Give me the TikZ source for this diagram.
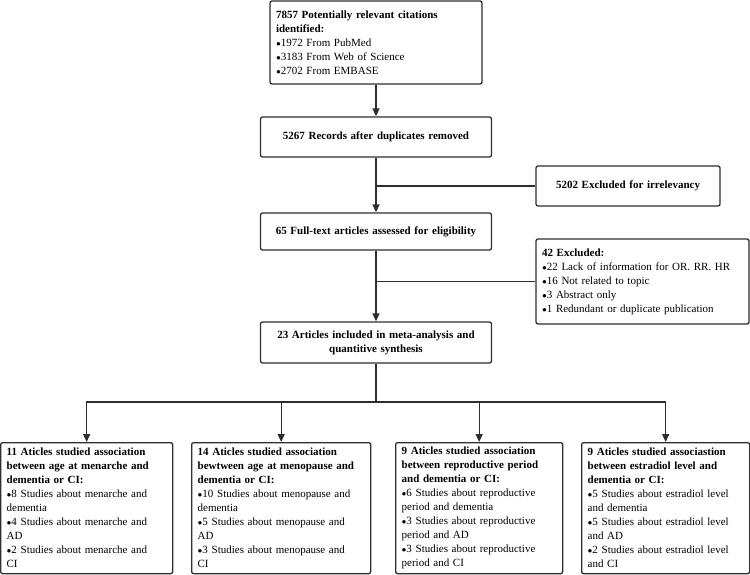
\documentclass[tikz,border=0pt]{standalone}
\usepackage{fontspec}
\setmainfont{Liberation Serif}
\usepackage{xcolor}
\usetikzlibrary{arrows.meta,positioning,calc}

\definecolor{edgegray}{HTML}{2E2E2E}
\newcommand{\dotitem}{{\fontsize{8}{14}\selectfont ●}}

\begin{document}
\begin{tikzpicture}[
    x=1pt, y=-1pt,
    box/.style={rectangle, draw=edgegray, line width=1.3pt, rounded corners=2pt, inner xsep=6pt, inner ysep=0pt, font=\fontsize{11}{14}\selectfont},
    mainbox/.style={box, text width=219pt, align=center},
    listbox/.style={box, align=left, anchor=north west, minimum height=131pt},
    arrow/.style={-{Stealth[length=8pt, width=7pt, inset=0pt]}, line width=1.3pt, draw=edgegray},
    line/.style={line width=1.3pt, draw=edgegray}
]
    \useasboundingbox (0,0) rectangle (750,575);

    % main column
    \node[box, text width=200pt, align=left, minimum height=83pt] (found) at (376,42.5)
        {\textbf{7857 Potentially relevant citations}\\\textbf{identified:}\\\dotitem1972 From PubMed\\\dotitem3183 From Web of Science\\\dotitem2702 From EMBASE};

    \node[mainbox, minimum height=40pt] (dedup) at (376,137) {\textbf{5267 Records after duplicates removed}};

    \node[mainbox, minimum height=37pt] (fulltext) at (376,231.5) {\textbf{65 Full-text articles assessed for eligibility}};

    \node[mainbox, minimum height=41pt] (included) at (376,342.5) {\textbf{23 Articles included in meta-analysis and}\\\textbf{quantitive synthesis}};

    % exclusions
    \node[box, text width=172pt, align=center, minimum height=40pt] (irrel) at (628,186) {\textbf{5202 Excluded for irrelevancy}};

    \node[box, text width=201pt, align=left, minimum height=85pt] (excl) at (642.5,281.5)
        {\textbf{42 Excluded:}\\\dotitem22 Lack of information for OR. RR. HR\\\dotitem16 Not related to topic\\\dotitem3 Abstract only\\\dotitem1 Redundant or duplicate publication};

    % four groups
    \node[listbox, text width=160pt] (menarche) at (0,442)
        {\textbf{11 Aticles studied association}\\\textbf{between age at menarche and}\\\textbf{dementia or CI:}\\\dotitem8 Studies about menarche and\\dementia\\\dotitem4 Studies about menarche and\\AD\\\dotitem2 Studies about menarche and\\CI};

    \node[listbox, text width=167pt] (menopause) at (191,442)
        {\textbf{14 Aticles studied association}\\\textbf{bewtween age at menopause and}\\\textbf{dementia or CI:}\\\dotitem10 Studies about menopause and\\dementia\\\dotitem5 Studies about menopause and\\AD\\\dotitem3 Studies about menopause and\\CI};

    \node[listbox, text width=155pt] (reprod) at (395,442)
        {\textbf{9 Aticles studied association}\\\textbf{between reproductive period}\\\textbf{and dementia or CI:}\\\dotitem6 Studies about reproductive\\period and dementia\\\dotitem3 Studies about reproductive\\period and AD\\\dotitem3 Studies about reproductive\\period and CI};

    \node[listbox, text width=156pt] (estradiol) at (581,442)
        {\textbf{9 Aticles studied associastion}\\\textbf{between estradiol level and}\\\textbf{dementia or CI:}\\\dotitem5 Studies about estradiol level\\and dementia\\\dotitem5 Studies about estradiol level\\and AD\\\dotitem2 Studies about estradiol level\\and CI};

    \coordinate (split) at (376,402);

    \draw[arrow] (found) -- (dedup);
    \draw[arrow] (dedup) -- (fulltext);
    \draw[line] (dedup |- irrel.west) -- (irrel.west);
    \draw[arrow] (fulltext) -- (included);
    \draw[line] (fulltext |- excl.west) -- (excl.west);
    \draw[line] (included) -- (split);
    \foreach \g in {menarche, menopause, reprod, estradiol}
        \draw[arrow] (split) -| (\g.north);
\end{tikzpicture}
\end{document}
